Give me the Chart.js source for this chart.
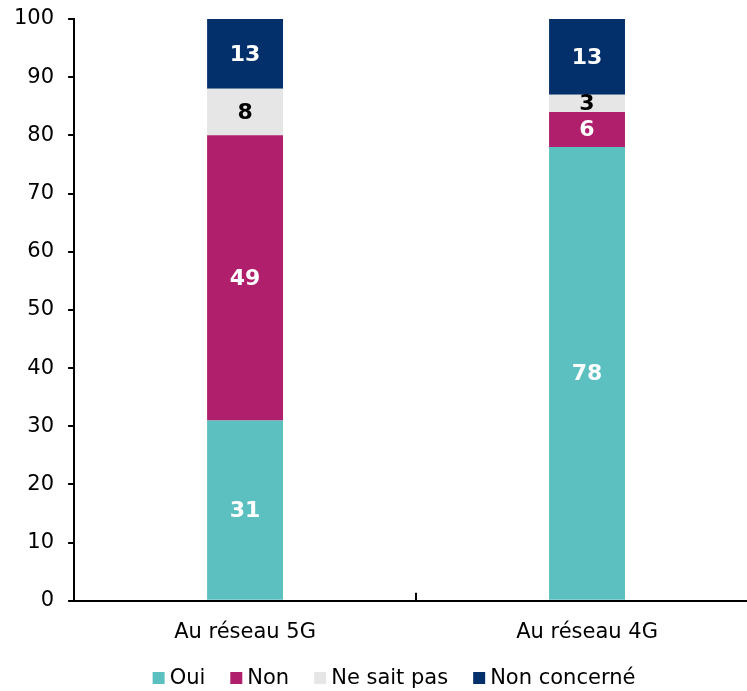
<!DOCTYPE html>
<html lang="fr">
<head>
<meta charset="utf-8">
<script src="https://cdn.jsdelivr.net/npm/chart.js@4/dist/chart.umd.min.js"></script>
<style>
  html, body { margin: 0; padding: 0; background: #fff; overflow: hidden; }
  #wrap { width: 758px; height: 691px; }
</style>
</head>
<body>
<div id="wrap"><canvas id="chart"></canvas></div>
<script>
// Categories and series (percent)
const categories = ['Au réseau 5G', 'Au réseau 4G'];
const seriesNames = ['Oui', 'Non', 'Ne sait pas', 'Non concerné'];
const oui = [31, 78];
const non = [49, 6];
const neSaitPas = [8, 3];
const nonConcerne = [13, 13];
const yTickMin = 0, yTickMax = 100, yTickStep = 10;

const seriesColors = ['#5CBFC0', '#AF1F6B', '#E6E6E6', '#03306A'];
const labelColors = ['#ffffff', '#ffffff', '#000000', '#ffffff'];
const FONT = '"DejaVu Sans", Verdana, sans-serif';

// Value labels centred in the visible part of each segment
const valueLabels = {
  id: 'valueLabels',
  afterDatasetsDraw(chart) {
    const { ctx, chartArea } = chart;
    ctx.save();
    ctx.font = 'bold 22px ' + FONT;
    ctx.textAlign = 'center';
    ctx.textBaseline = 'middle';
    chart.data.datasets.forEach((ds, i) => {
      const meta = chart.getDatasetMeta(i);
      meta.data.forEach((bar, j) => {
        const p = bar.getProps(['x', 'y', 'base'], true);
        const top = Math.max(Math.min(p.y, p.base), chartArea.top);
        const bottom = Math.min(Math.max(p.y, p.base), chartArea.bottom);
        ctx.fillStyle = labelColors[i];
        ctx.fillText(String(ds.data[j]), p.x, (top + bottom) / 2 + 1);
      });
    });
    ctx.restore();
  }
};

// Small inward tick marks on the category axis between categories
const categoryTicks = {
  id: 'categoryTicks',
  afterDraw(chart) {
    const { ctx } = chart;
    const xs = chart.scales.x;
    const bottom = chart.chartArea.bottom;
    ctx.save();
    ctx.strokeStyle = '#000';
    ctx.lineWidth = 2;
    for (let k = 0; k < categories.length - 1; k++) {
      const x = Math.round((xs.getPixelForTick(k) + xs.getPixelForTick(k + 1)) / 2);
      ctx.beginPath();
      ctx.moveTo(x, bottom);
      ctx.lineTo(x, bottom - 8);
      ctx.stroke();
    }
    ctx.restore();
  }
};

// Legend row: square swatch followed by the series name
const legendRow = {
  id: 'legendRow',
  afterDraw(chart) {
    const { ctx } = chart;
    const box = 12, gap = 5, spacing = 25, cy = 678;
    ctx.save();
    ctx.font = '21px ' + FONT;
    ctx.textBaseline = 'middle';
    const widths = chart.data.datasets.map(ds => ctx.measureText(ds.label).width);
    const total = widths.reduce((a, w) => a + box + gap + w, 0) + spacing * (widths.length - 1);
    let x = 394 - total / 2;
    chart.data.datasets.forEach((ds, i) => {
      ctx.fillStyle = ds.backgroundColor;
      ctx.fillRect(x, cy - box / 2, box, box);
      ctx.fillStyle = '#000';
      ctx.fillText(ds.label, x + box + gap, cy + 1);
      x += box + gap + widths[i] + spacing;
    });
    ctx.restore();
  }
};

const seriesData = [oui, non, neSaitPas, nonConcerne];

new Chart(document.getElementById('chart'), {
  type: 'bar',
  data: {
    labels: categories,
    datasets: seriesNames.map((name, i) => ({
      label: name,
      data: seriesData[i],
      backgroundColor: seriesColors[i],
      borderWidth: 0,
      barPercentage: 1,
      categoryPercentage: 0.222
    }))
  },
  options: {
    responsive: true,
    maintainAspectRatio: false,
    animation: false,
    events: [],
    layout: { padding: { left: 0, top: 19, right: 0, bottom: 35 } },
    plugins: {
      legend: { display: false },
      tooltip: { enabled: false }
    },
    scales: {
      x: {
        stacked: true,
        grid: { display: false },
        border: { display: true, color: '#000', width: 2 },
        ticks: { color: '#000', font: { family: FONT, size: 21 }, padding: 11 }
      },
      y: {
        stacked: true,
        min: yTickMin,
        max: yTickMax,
        afterFit(scale) { scale.paddingTop = 0; scale.paddingBottom = 0; },
        grid: { drawOnChartArea: false, drawTicks: true, tickLength: 6, color: '#000', lineWidth: 2 },
        border: { display: true, color: '#000', width: 2 },
        ticks: { stepSize: yTickStep, color: '#000', font: { family: FONT, size: 21 }, padding: 14 }
      }
    }
  },
  plugins: [valueLabels, categoryTicks, legendRow]
});
</script>
</body>
</html>
